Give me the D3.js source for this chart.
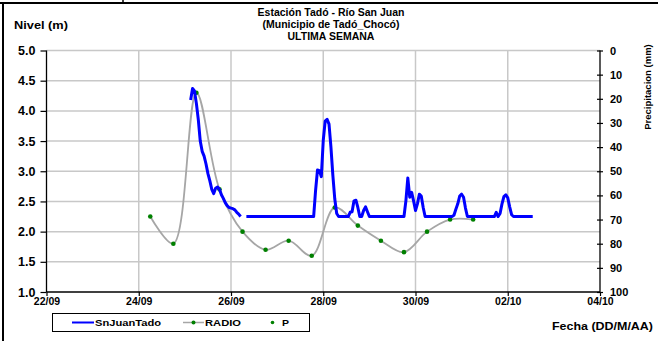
<!DOCTYPE html>
<html>
<head>
<meta charset="utf-8">
<script src="https://cdn.jsdelivr.net/npm/d3@7"></script>
<style>
    body { margin: 0; background: #fff; }
    #chart-area { width: 658px; height: 341px; }
    text { font-family: "Liberation Sans", Arial, sans-serif; font-weight: bold; fill: #000; }
</style>
</head>
<body>
<div id="chart-area"></div>
<script>

// chart texts
let titleLines = ["Estación Tadó - Río San Juan", "(Municipio de Tadó_Chocó)", "ULTIMA SEMANA"];
let seriesNames = ["SnJuanTado", "RADIO", "P"];

// axis ticks
let dateTicks = ["22/09", "24/09", "26/09", "28/09", "30/09", "02/10", "04/10"];
let levelTicks = [1.0, 1.5, 2.0, 2.5, 3.0, 3.5, 4.0, 4.5, 5.0];
let precipTicks = [0, 10, 20, 30, 40, 50, 60, 70, 80, 90, 100];

// SnJuanTado level (m), null = no reading
let levelTimes = [
    "25/09 03:00", "25/09 04:00", "25/09 05:00", "25/09 06:00", "25/09 07:00", "25/09 08:00",
    "25/09 09:00", "25/09 10:00", "25/09 11:00", "25/09 12:00", "25/09 13:00", "25/09 14:00",
    "25/09 15:00", "25/09 16:00", "25/09 17:00", "25/09 18:00", "25/09 19:00", "25/09 20:00",
    "25/09 21:00", "25/09 22:00", "25/09 23:00", "26/09 00:00", "26/09 01:00", "26/09 02:00",
    "26/09 03:00", "26/09 04:00", "26/09 05:00", "26/09 06:00",
    "26/09 08:00", "27/09 19:00", "27/09 20:00", "27/09 21:00", "27/09 22:00", "27/09 23:00",
    "28/09 00:00", "28/09 01:00", "28/09 02:00", "28/09 03:00", "28/09 04:00", "28/09 05:00",
    "28/09 06:00", "28/09 07:00", "28/09 08:00", "28/09 13:00", "28/09 14:00", "28/09 15:00",
    "28/09 16:00", "28/09 17:00", "28/09 18:00", "28/09 19:00", "28/09 20:00", "28/09 21:00",
    "28/09 22:00", "28/09 23:00", "29/09 00:00", "29/09 18:00", "29/09 19:00", "29/09 20:00",
    "29/09 21:00", "29/09 22:00", "29/09 23:00", "30/09 00:00", "30/09 01:00", "30/09 02:00",
    "30/09 03:00", "30/09 04:00", "30/09 05:00", "30/09 19:00", "30/09 20:00", "30/09 21:00",
    "30/09 22:00", "30/09 23:00", "01/10 00:00", "01/10 01:00", "01/10 02:00", "01/10 03:00",
    "01/10 17:00", "01/10 18:00", "01/10 19:00", "01/10 20:00", "01/10 21:00", "01/10 22:00",
    "01/10 23:00", "02/10 00:00", "02/10 01:00", "02/10 02:00", "02/10 03:00", "02/10 13:00"
];
let levelValues = [
    4.18, 4.37, 4.33, 4.12, 3.85, 3.50,
    3.33, 3.25, 3.12, 2.96, 2.84, 2.70,
    2.63, 2.72, 2.74, 2.70, 2.61, 2.55,
    2.48, 2.43, 2.40, 2.39, 2.38, 2.36,
    2.32, 2.29, 2.25, null,
    2.25, 2.25, 2.68, 3.02, 3.01, 2.91,
    3.51, 3.83, 3.86, 3.78, 3.40, 2.93,
    2.54, 2.30, 2.25, 2.25, 2.32, 2.33,
    2.51, 2.52, 2.40, 2.25, 2.25, 2.35,
    2.41, 2.33, 2.25, 2.25, 2.51, 2.89,
    2.57, 2.65, 2.51, 2.35, 2.46, 2.62,
    2.59, 2.40, 2.25, 2.25, 2.27, 2.37,
    2.46, 2.59, 2.62, 2.57, 2.39, 2.25,
    2.25, 2.32, 2.25, 2.30, 2.46, 2.58,
    2.61, 2.56, 2.41, 2.28, 2.25, 2.25
];

// RADIO level (m)
let radioTimes = [
    "24/09 06:00", "24/09 18:00", "25/09 06:00", "25/09 18:00", "26/09 06:00",
    "26/09 18:00", "27/09 06:00", "27/09 18:00", "28/09 06:00", "28/09 18:00",
    "29/09 06:00", "29/09 18:00", "30/09 06:00", "30/09 18:00", "01/10 06:00"
];
let radioValues = [2.25, 1.80, 4.30, 2.70, 2.00, 1.70, 1.85, 1.60, 2.40, 2.10, 1.85, 1.66, 2.00, 2.20, 2.20];

// P precipitation (mm) - no values in this week
let precipTimes = [];
let precipValues = [];


class LevelChart {

    constructor(parentElement) {
        this.parentElement = parentElement;
        this.initVis();
    }

    initVis() {
        let vis = this;

        vis.width = 658;
        vis.height = 341;
        vis.plot = {left: 46.5, right: 600, top: 50.5, bottom: 292};

        vis.svg = d3.select("#" + vis.parentElement).append("svg")
            .attr("width", vis.width)
            .attr("height", vis.height);

        vis.parseTime = d3.timeParse("%d/%m %H:%M");
        vis.parseDay = d3.timeParse("%d/%m");

        // scales
        vis.x = d3.scaleTime()
            .domain([vis.parseDay(dateTicks[0]), vis.parseDay(dateTicks[dateTicks.length - 1])])
            .range([vis.plot.left, vis.plot.right]);

        vis.y = d3.scaleLinear()
            .domain([1, 5])
            .range([vis.plot.bottom, vis.plot.top]);

        vis.yPrecip = d3.scaleLinear()
            .domain([0, 100])
            .range([vis.plot.top, vis.plot.bottom]);

        vis.wrangleData();
    }

    wrangleData() {
        let vis = this;

        vis.levelData = levelTimes.map((t, i) => ({date: vis.parseTime(t), value: levelValues[i]}));
        vis.radioData = radioTimes.map((t, i) => ({date: vis.parseTime(t), value: radioValues[i]}));
        vis.precipData = precipTimes.map((t, i) => ({date: vis.parseTime(t), value: precipValues[i]}));

        vis.updateVis();
    }

    updateVis() {
        let vis = this;

        // frame around the picture (cut from a bigger sheet)
        vis.svg.append("line")
            .attr("x1", 0).attr("x2", vis.width)
            .attr("y1", 3).attr("y2", 3)
            .attr("stroke", "#000").attr("stroke-width", 2);
        vis.svg.append("line")
            .attr("x1", 3).attr("x2", 3)
            .attr("y1", 2).attr("y2", vis.height)
            .attr("stroke", "#000").attr("stroke-width", 2);
        vis.svg.append("line")
            .attr("x1", 123).attr("x2", 123)
            .attr("y1", 0).attr("y2", 3)
            .attr("stroke", "#000").attr("stroke-width", 1.5);

        // grid
        let grid = vis.svg.append("g").attr("class", "grid");
        grid.selectAll(".hgrid")
            .data(levelTicks.slice(1))
            .enter()
            .append("line")
            .attr("x1", vis.plot.left).attr("x2", vis.plot.right)
            .attr("y1", d => vis.y(d)).attr("y2", d => vis.y(d))
            .attr("stroke", "#c8c8c8").attr("stroke-width", 1.5);
        grid.selectAll(".vgrid")
            .data(dateTicks.slice(1, -1))
            .enter()
            .append("line")
            .attr("x1", d => vis.x(vis.parseDay(d))).attr("x2", d => vis.x(vis.parseDay(d)))
            .attr("y1", vis.plot.top).attr("y2", vis.plot.bottom)
            .attr("stroke", "#c8c8c8").attr("stroke-width", 1.5);

        // left axis
        let yAxis = d3.axisLeft(vis.y)
            .tickValues(levelTicks)
            .tickFormat(d3.format(".1f"))
            .tickSize(6)
            .tickPadding(5);
        let gy = vis.svg.append("g")
            .attr("transform", `translate(${vis.plot.left},0)`)
            .call(yAxis);
        gy.selectAll("text").style("font-size", "12.5px");

        // right axis (precipitation, reversed)
        let yAxisR = d3.axisRight(vis.yPrecip)
            .tickValues(precipTicks)
            .tickSize(3)
            .tickPadding(7);
        let gr = vis.svg.append("g")
            .attr("transform", `translate(${vis.plot.right},0)`)
            .call(yAxisR);
        gr.selectAll(".tick line").attr("x1", -3);
        gr.selectAll("text").style("font-size", "11px");

        // bottom axis
        let xAxis = d3.axisBottom(vis.x)
            .tickValues(dateTicks.map(d => vis.parseDay(d)))
            .tickFormat(d3.timeFormat("%d/%m"))
            .tickSize(4)
            .tickPadding(2);
        let gx = vis.svg.append("g")
            .attr("transform", `translate(0,${vis.plot.bottom})`)
            .call(xAxis);
        gx.selectAll("text").style("font-size", "10.5px");

        [gy, gr, gx].forEach(g => {
            g.select(".domain").attr("stroke", "#000").attr("stroke-width", 1.3);
            g.selectAll(".tick line").attr("stroke", "#000").attr("stroke-width", 1.2);
        });
        gy.select(".domain").attr("d", `M0,${vis.plot.top}V${vis.plot.bottom}`);
        gr.select(".domain").attr("d", `M0,${vis.plot.top}V${vis.plot.bottom}`);
        gx.select(".domain").attr("d", `M${vis.plot.left},0H${vis.plot.right}`);

        // titles
        vis.svg.append("g")
            .selectAll("text")
            .data(titleLines)
            .enter()
            .append("text")
            .attr("x", 331)
            .attr("y", (d, i) => 16 + i * 12)
            .attr("text-anchor", "middle")
            .style("font-size", "10.5px")
            .text(d => d);

        vis.svg.append("text")
            .attr("x", 14).attr("y", 29)
            .attr("textLength", 54)
            .attr("lengthAdjust", "spacingAndGlyphs")
            .style("font-size", "11px")
            .text("Nivel (m)");

        vis.svg.append("text")
            .attr("transform", "translate(651,87) rotate(-90)")
            .attr("text-anchor", "middle")
            .style("font-size", "9.5px")
            .text("Precipitacion (mm)");

        vis.svg.append("text")
            .attr("x", 552).attr("y", 330)
            .attr("textLength", 101)
            .attr("lengthAdjust", "spacingAndGlyphs")
            .style("font-size", "11px")
            .text("Fecha (DD/M/AA)");

        // RADIO series: smooth grey line with green markers
        let radioLine = d3.line()
            .x(d => vis.x(d.date))
            .y(d => vis.y(d.value))
            .curve(d3.curveCatmullRom);

        vis.svg.append("path")
            .datum(vis.radioData)
            .attr("fill", "none")
            .attr("stroke", "#a6a6a6")
            .attr("stroke-width", 1.8)
            .attr("d", radioLine);

        vis.svg.selectAll(".radio-dot")
            .data(vis.radioData)
            .enter()
            .append("circle")
            .attr("class", "radio-dot")
            .attr("cx", d => vis.x(d.date))
            .attr("cy", d => vis.y(d.value))
            .attr("r", 2.3)
            .attr("fill", "#008000");

        // P series: green markers on the precipitation axis
        vis.svg.selectAll(".p-dot")
            .data(vis.precipData)
            .enter()
            .append("circle")
            .attr("class", "p-dot")
            .attr("cx", d => vis.x(d.date))
            .attr("cy", d => vis.yPrecip(d.value))
            .attr("r", 2)
            .attr("fill", "#008000");

        // SnJuanTado series
        let levelLine = d3.line()
            .defined(d => d.value != null)
            .x(d => vis.x(d.date))
            .y(d => vis.y(d.value));

        vis.svg.append("path")
            .datum(vis.levelData)
            .attr("fill", "none")
            .attr("stroke", "#0000ff")
            .attr("stroke-width", 3)
            .attr("stroke-linejoin", "round")
            .attr("d", levelLine);

        // legend
        let legend = vis.svg.append("g").attr("class", "legend");
        legend.append("rect")
            .attr("x", 52.5).attr("y", 313.5)
            .attr("width", 257).attr("height", 18)
            .attr("fill", "#fff")
            .attr("stroke", "#000").attr("stroke-width", 1);

        let ly = 322.5;
        legend.append("line")
            .attr("x1", 72).attr("x2", 94).attr("y1", ly).attr("y2", ly)
            .attr("stroke", "#0000ff").attr("stroke-width", 2);
        legend.append("line")
            .attr("x1", 183).attr("x2", 204).attr("y1", ly).attr("y2", ly)
            .attr("stroke", "#a6a6a6").attr("stroke-width", 1.5);
        legend.append("circle")
            .attr("cx", 193.5).attr("cy", ly).attr("r", 2)
            .attr("fill", "#008000");
        legend.append("circle")
            .attr("cx", 272.5).attr("cy", ly).attr("r", 1.8)
            .attr("fill", "#008000");

        let labelX = [95, 205, 282];
        let labelW = [66, 36, 7];
        legend.selectAll(".legend-label")
            .data(seriesNames)
            .enter()
            .append("text")
            .attr("class", "legend-label")
            .attr("x", (d, i) => labelX[i])
            .attr("y", ly + 3.2)
            .attr("textLength", (d, i) => labelW[i])
            .attr("lengthAdjust", "spacingAndGlyphs")
            .style("font-size", "9px")
            .text(d => d);
    }
}

new LevelChart("chart-area");

</script>
</body>
</html>
